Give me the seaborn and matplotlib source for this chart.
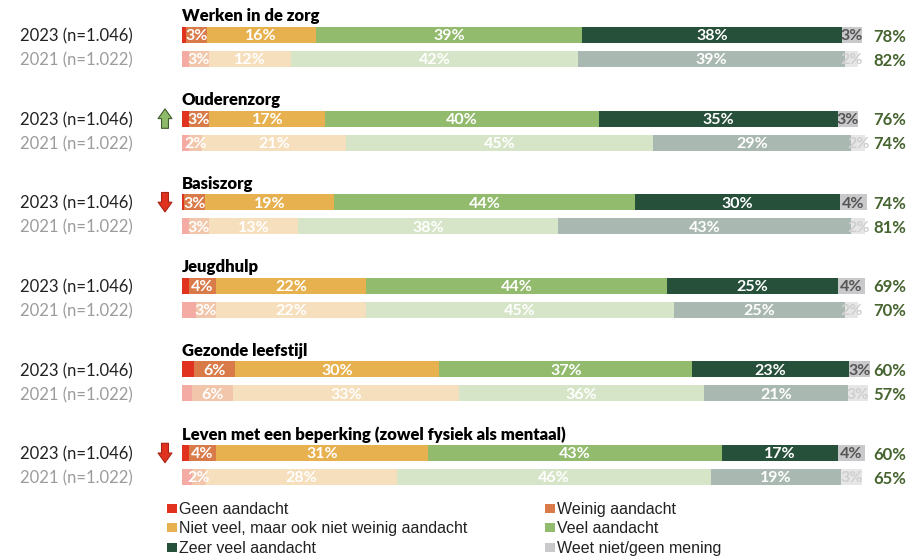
"Stacked attention bars per topic, 2023 vs 2021"
import pandas as pd
import numpy as np
import matplotlib as mpl
from matplotlib import pyplot as plt
from matplotlib.patches import Patch
from matplotlib.transforms import offset_copy
import seaborn as sns

topics = ["Werken in de zorg", "Ouderenzorg", "Basiszorg", "Jeugdhulp",
          "Gezonde leefstijl", "Leven met een beperking (zowel fysiek als mentaal)"]
years = ["2023", "2021"]
year_labels = ["2023 (n=1.046)", "2021 (n=1.022)"]
categories = ["Geen aandacht", "Weinig aandacht", "Niet veel, maar ook niet weinig aandacht",
              "Veel aandacht", "Zeer veel aandacht", "Weet niet/geen mening"]

# every list: one [2023, 2021] pair per topic
geen = [[0.6, 1.0], [1.0, 1.0], [0.3, 1.0], [1.0, 2.0], [1.7, 1.5], [1.0, 1.5]]
weinig = [[3, 3], [3, 2], [3, 3], [4, 3], [6, 6], [4, 2]]
niet_veel = [[16, 12], [17, 21], [19, 13], [22, 22], [30, 33], [31, 28]]
veel = [[39, 42], [40, 45], [44, 38], [44, 45], [37, 36], [43, 46]]
zeer_veel = [[38, 39], [35, 29], [30, 43], [25, 25], [23, 21], [17, 19]]
weet_niet = [[3, 2], [3, 2], [4, 2], [4, 2], [3, 3], [4, 3]]
totaal = [[78, 82], [76, 74], [74, 81], [69, 70], [60, 57], [60, 65]]
arrows = [None, "up", "down", None, None, "down"]

colors_2023 = ["#e0321f", "#d97a49", "#e8b14f", "#93bb6e", "#27503a", "#c9c9cb"]
colors_2021 = ["#f3aba4", "#f2c6ab", "#f6dfbd", "#d6e5c7", "#a9b9b1", "#e6e6e6"]

plt.rcParams['font.family'] = ['Lato', 'DejaVu Sans']

# layout in figure pixels
W, H = 911, 560
x0, x100 = 182, 865
px = (x100 - x0) / 100.0
first_row, group_pitch, row_pitch, bar_h = 35, 83.6, 24, 16

parts = [geen, weinig, niet_veel, veel, zeer_veel, weet_niet]
rows = []
for i, topic in enumerate(topics):
    for j, year in enumerate(years):
        row = {"topic": topic, "year": year, "pos": first_row + group_pitch * i + row_pitch * j}
        for k, p in enumerate(parts):
            row["v{}".format(k)] = p[i][j]
        rows.append(row)
df = pd.DataFrame(rows)
for k in range(len(parts)):
    df["cum{}".format(k)] = df[["v{}".format(n) for n in range(k + 1)]].sum(axis=1)

fig = plt.figure(figsize=(W / 100, H / 100), dpi=100)
ax = fig.add_axes([0, 0, 1, 1])

# stacked bars by overlapping cumulative sums, longest first
for k in reversed(range(len(parts))):
    sns.barplot(data=df, x="cum{}".format(k), y="pos", hue="year", orient="h",
                native_scale=True, width=bar_h / row_pitch, errorbar=None,
                palette={"2023": colors_2023[k], "2021": colors_2021[k]},
                saturation=1, linewidth=0, legend=False, ax=ax)

ax.set_xlim(-x0 / px, (W - x0) / px)
ax.set_ylim(H, 0)
ax.set_axis_off()

# segment labels
for _, r in df.iterrows():
    for k in range(1, len(parts)):
        v = r["v{}".format(k)]
        mid = r["cum{}".format(k)] - v / 2
        if k == 5:
            c = "#555555" if r["year"] == "2023" else "#cfcfcf"
        else:
            c = "white"
        ax.text(mid, r["pos"], "{:g}%".format(v), ha="center", va="center_baseline",
                fontsize=11.5, fontweight="bold", color=c)

yax = ax.get_yaxis_transform()
for i, topic in enumerate(topics):
    y23 = first_row + group_pitch * i
    ax.text(0, y23 - 20, topic, ha="left", va="center_baseline", fontsize=12,
            fontweight="heavy", color="black")
    for j in range(2):
        y = y23 + row_pitch * j
        ax.text(20 / W, y, year_labels[j], transform=yax, ha="left", va="center_baseline",
                fontsize=12, color="#222222" if j == 0 else "#9c9c9c")
        ax.text(906 / W, y, "{}%".format(totaal[i][j]), transform=yax, ha="right",
                va="center_baseline", fontsize=12, fontweight="bold", color="#46642f")
    if arrows[i] is not None:
        up = arrows[i] == "up"
        fc, ec = ("#8dbb6a", "#3e5d2b") if up else ("#e0321f", "#a82414")
        head = offset_copy(yax, fig=fig, x=0, y=7 if up else -7, units="points")
        tail = offset_copy(yax, fig=fig, x=0, y=-7 if up else 7, units="points")
        ax.annotate("", xy=(165 / W, y23), xycoords=head, xytext=(165 / W, y23),
                    textcoords=tail,
                    arrowprops=dict(arrowstyle="simple,head_length=0.7,head_width=1.0,tail_width=0.5",
                                    fc=fc, ec=ec, lw=0.8, shrinkA=0, shrinkB=0,
                                    mutation_scale=10))

# legend, filled column by column
order = [0, 2, 4, 1, 3, 5]
handles = [Patch(facecolor=colors_2023[k], edgecolor="none") for k in order]
labels = [categories[k] for k in order]
fig.legend(handles, labels, ncol=2, loc="upper left", bbox_to_anchor=(167 / W, 1 - 502 / H),
           frameon=False, handlelength=0.62, handleheight=0.5, handletextpad=0.15,
           labelspacing=0.28, columnspacing=4.85, borderpad=0, borderaxespad=0,
           prop={"family": ["Liberation Sans", "DejaVu Sans"], "size": 11.5}, labelcolor="#222222")

fig.savefig("out.png", dpi=100, facecolor="white")
